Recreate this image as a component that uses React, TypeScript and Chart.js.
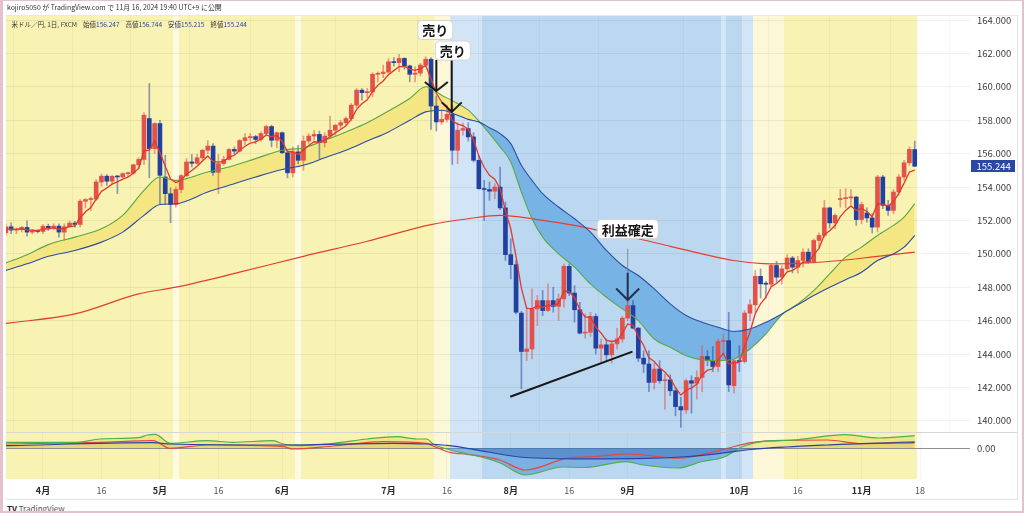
import React, { useEffect, useRef } from 'react';
import { Chart, registerables } from 'chart.js';

Chart.register(...registerables);

const FONT = "'Noto Sans CJK JP', 'Noto Sans', sans-serif";

// ---------------- DATA ----------------
// bar index 0 = 2024-04-01 (trading days), first bar = 2024-03-21
const firstBarIndex = -7;

const opens = [
  151.26, 151.62, 151.42, 151.45, 151.58, 151.30, 151.36,
  151.34, 151.65, 151.55, 151.66, 151.30, 151.62, 151.84, 151.76, 153.15, 153.25,
  153.28, 154.30, 154.65, 154.35, 154.64, 154.60, 154.80, 154.83, 155.33, 155.65,
  158.10, 156.30, 157.80, 154.60, 153.60, 152.95, 153.85, 154.68, 155.50, 155.42,
  155.75, 156.20, 156.45, 154.88, 155.40, 155.65, 156.25, 156.15, 156.78, 156.95,
  157.02, 156.85, 157.20, 157.62, 156.80, 157.25, 156.05, 154.85, 156.10, 155.60,
  156.75, 157.05, 157.15, 156.65, 157.05, 157.40, 157.70, 157.85, 158.10, 158.90,
  159.80, 159.65, 159.70, 160.75, 160.80, 160.88, 161.50, 161.45, 161.70, 161.25,
  160.75, 160.82, 161.30, 161.65, 158.85, 157.90, 158.05, 158.35, 156.20, 157.40,
  157.50, 157.00, 155.60, 153.90, 153.85, 153.75, 154.00, 152.75, 149.95, 149.35,
  146.45, 144.15, 144.30, 146.70, 147.20, 146.60, 147.20, 146.85, 147.30, 149.25,
  147.65, 146.65, 145.25, 145.30, 146.25, 144.35, 144.55, 143.95, 144.60, 144.90,
  146.15, 146.90, 145.55, 143.75, 143.40, 142.30, 143.10, 142.40, 142.45, 141.80,
  140.85, 140.65, 142.40, 142.25, 142.60, 143.85, 143.60, 143.25, 144.75, 144.80,
  142.10, 143.60, 143.55, 146.45, 146.95, 148.65, 148.20, 148.18, 149.30, 148.60,
  149.10, 149.75, 149.20, 149.60, 150.10, 149.50, 150.80, 151.10, 152.75, 151.85,
  153.25, 153.30, 153.35, 153.40, 152.05, 152.45, 152.15, 151.60, 154.60, 152.90,
  152.60, 153.70, 154.60, 155.45, 156.247,
];
const highs = [
  151.80, 151.85, 151.55, 151.65, 151.97, 151.45, 151.45,
  151.75, 151.78, 151.80, 151.80, 151.80, 151.95, 151.95, 153.25, 153.30, 153.40,
  154.45, 154.78, 154.75, 154.70, 154.70, 154.85, 154.90, 155.37, 155.75, 158.45,
  160.20, 157.85, 158.00, 155.90, 153.95, 154.00, 154.75, 155.70, 155.95, 155.95,
  156.25, 156.78, 156.60, 155.95, 155.85, 156.30, 156.40, 156.85, 157.20, 157.20,
  157.10, 157.30, 157.70, 157.70, 157.30, 157.30, 156.25, 156.40, 156.50, 157.05,
  157.20, 157.40, 157.35, 157.25, 158.25, 157.75, 158.00, 158.20, 159.00, 159.90,
  159.90, 159.90, 160.85, 160.90, 161.30, 161.70, 161.75, 161.95, 161.75, 161.30,
  161.20, 161.40, 161.80, 161.75, 159.45, 158.60, 158.85, 158.85, 157.85, 157.85,
  157.85, 157.25, 155.90, 154.40, 154.30, 154.20, 155.20, 153.10, 150.90, 149.60,
  146.55, 146.80, 147.90, 147.50, 147.80, 148.20, 148.00, 147.60, 149.40, 149.40,
  148.10, 147.10, 146.40, 146.50, 146.40, 144.90, 144.90, 144.80, 145.55, 146.25,
  147.20, 147.20, 145.60, 144.20, 144.20, 143.45, 143.60, 142.80, 142.75, 141.95,
  141.40, 142.50, 142.70, 143.00, 144.50, 144.20, 144.45, 144.90, 145.20, 146.50,
  143.70, 144.50, 146.60, 147.25, 149.00, 149.10, 148.35, 149.35, 149.55, 149.30,
  149.95, 149.85, 149.85, 150.30, 150.30, 150.90, 151.25, 153.20, 152.80, 152.40,
  153.85, 153.90, 153.85, 153.45, 153.10, 152.75, 152.40, 154.70, 154.70, 153.20,
  153.85, 154.75, 155.60, 156.40, 156.744,
];
const lows = [
  151.10, 151.20, 151.20, 151.30, 151.05, 151.20, 151.25,
  151.20, 151.40, 151.45, 151.00, 150.80, 151.60, 151.60, 151.60, 152.75, 152.60,
  153.20, 154.05, 154.10, 154.20, 153.60, 154.55, 154.60, 154.75, 155.10, 155.35,
  154.55, 156.00, 153.00, 152.95, 151.86, 152.80, 153.65, 154.60, 155.20, 155.35,
  155.60, 156.00, 154.70, 153.60, 155.30, 155.60, 155.95, 156.10, 156.55, 156.75,
  156.60, 156.75, 157.10, 156.40, 156.35, 156.00, 154.55, 154.60, 155.40, 155.00,
  156.60, 156.80, 155.70, 156.40, 156.90, 157.10, 157.50, 157.70, 157.95, 158.75,
  159.20, 159.35, 159.40, 160.30, 160.55, 160.80, 161.25, 160.90, 161.05, 160.30,
  160.30, 160.65, 161.20, 157.45, 157.35, 157.75, 157.90, 155.35, 155.40, 157.10,
  156.75, 155.50, 153.85, 152.00, 153.20, 153.30, 152.65, 149.60, 148.50, 146.40,
  141.90, 143.60, 143.70, 145.70, 146.30, 146.55, 146.50, 146.00, 146.80, 147.50,
  145.90, 145.20, 144.95, 145.05, 144.00, 143.50, 143.60, 143.45, 144.30, 144.70,
  146.00, 145.50, 143.55, 142.90, 141.75, 141.90, 142.25, 140.70, 141.50, 140.30,
  139.60, 140.45, 140.45, 141.30, 141.75, 143.30, 142.95, 142.95, 143.95, 141.75,
  141.65, 142.95, 143.45, 146.00, 146.50, 147.35, 147.35, 148.05, 148.30, 148.20,
  149.00, 148.85, 148.85, 149.20, 149.45, 149.45, 150.35, 151.00, 151.55, 151.50,
  152.80, 152.75, 152.95, 151.70, 151.80, 151.90, 151.25, 151.30, 152.70, 152.30,
  152.40, 153.50, 154.40, 155.30, 155.215,
];
const closes = [
  151.62, 151.42, 151.45, 151.58, 151.30, 151.36, 151.34,
  151.65, 151.55, 151.66, 151.30, 151.62, 151.84, 151.76, 153.15, 153.25, 153.28,
  154.30, 154.65, 154.35, 154.64, 154.60, 154.80, 154.83, 155.33, 155.65, 158.30,
  156.30, 157.80, 154.70, 153.60, 152.95, 153.85, 154.68, 155.50, 155.42, 155.75,
  156.20, 156.45, 154.88, 155.40, 155.65, 156.25, 156.15, 156.78, 156.95, 157.02,
  156.85, 157.20, 157.62, 156.80, 157.25, 156.05, 154.85, 156.10, 155.60, 156.75,
  157.05, 157.15, 156.65, 157.05, 157.40, 157.70, 157.85, 158.10, 158.90, 159.80,
  159.65, 159.70, 160.75, 160.80, 160.88, 161.50, 161.45, 161.70, 161.25, 160.75,
  160.82, 161.30, 161.65, 158.85, 157.90, 158.05, 158.35, 156.20, 157.40, 157.50,
  157.00, 155.60, 153.90, 153.85, 153.75, 154.00, 152.75, 149.95, 149.35, 146.50,
  144.15, 144.30, 146.70, 147.20, 146.60, 147.20, 146.85, 147.30, 149.25, 147.65,
  146.65, 145.25, 145.30, 146.25, 144.35, 144.55, 143.95, 144.60, 144.90, 146.15,
  146.90, 145.55, 143.75, 143.40, 142.30, 143.10, 142.40, 142.45, 141.80, 140.85,
  140.65, 142.40, 142.25, 142.60, 143.85, 143.60, 143.25, 144.75, 144.80, 142.15,
  143.60, 143.55, 146.45, 146.95, 148.65, 148.20, 148.18, 149.30, 148.60, 149.10,
  149.75, 149.20, 149.60, 150.10, 149.50, 150.80, 151.10, 152.75, 151.85, 152.30,
  153.30, 153.35, 153.40, 152.05, 152.95, 152.15, 151.60, 154.60, 152.90, 152.60,
  153.70, 154.60, 155.45, 156.25, 155.244,
];
// short moving average (red thin line), one value per bar
const fastMA = [
  151.50, 151.47, 151.46, 151.50, 151.43, 151.41, 151.39,
  151.48, 151.50, 151.55, 151.47, 151.52, 151.63, 151.67, 152.16, 152.52, 152.77,
  153.28, 153.74, 153.94, 154.17, 154.31, 154.47, 154.59, 154.84, 155.11, 156.17,
  156.21, 156.74, 156.06, 155.24, 154.48, 154.27, 154.41, 154.77, 154.99, 155.24,
  155.56, 155.86, 155.53, 155.49, 155.54, 155.78, 155.90, 156.19, 156.44, 156.63,
  156.70, 156.87, 157.12, 157.01, 157.09, 156.74, 156.11, 156.11, 155.94, 156.21,
  156.49, 156.71, 156.69, 156.81, 157.01, 157.24, 157.44, 157.66, 158.07, 158.65,
  158.98, 159.22, 159.73, 160.09, 160.35, 160.73, 160.97, 161.21, 161.22, 161.06,
  160.98, 161.09, 161.28, 160.47, 159.61, 159.09, 158.84, 157.96, 157.77, 157.68,
  157.45, 156.83, 155.85, 155.18, 154.70, 154.47, 153.90, 152.58, 151.50, 149.83,
  147.94, 146.73, 146.72, 146.88, 146.79, 146.93, 146.90, 147.03, 147.77, 147.73,
  147.37, 146.66, 146.21, 146.22, 145.60, 145.25, 144.82, 144.75, 144.80, 145.25,
  145.80, 145.72, 145.06, 144.51, 143.77, 143.55, 143.17, 142.93, 142.55, 141.98,
  141.54, 141.83, 141.97, 142.18, 142.74, 143.03, 143.10, 143.65, 144.03, 143.40,
  143.47, 143.50, 144.48, 145.30, 146.42, 147.01, 147.40, 148.03, 148.22, 148.51,
  148.92, 149.01, 149.21, 149.51, 149.51, 149.94, 150.33, 151.14, 151.38, 151.69,
  152.23, 152.60, 152.87, 152.60, 152.72, 152.53, 152.22, 153.01, 152.97, 152.85,
  153.13, 153.62, 154.23, 154.90, 155.01,
];

// middle (green) and slow (blue) moving averages, read at these bar indices
const bandIdx = [
  -7, -3, 1, 6, 11, 15, 19, 22, 25, 31, 35, 40, 45, 49, 53, 57, 61, 65, 69, 72,
  75, 78, 80, 82, 84, 86, 88, 90, 92, 94, 97, 100, 103, 106, 109, 112, 115, 118,
  121, 124, 127, 130, 133, 136, 139, 142, 145, 148, 151, 154, 157, 160, 162, 164,
];
const greenMA = [
  149.45, 149.95, 150.55, 151.0, 151.5, 152.3, 153.8, 154.6, 154.4, 154.9, 155.2, 155.7,
  156.2, 156.35, 156.8, 157.3, 157.85, 158.55, 159.3, 160.0, 159.5, 159.0, 158.6, 157.95,
  157.2, 156.4, 155.5, 153.7, 152.1, 151.0, 150.0, 149.2, 148.2, 147.4, 146.7, 146.0,
  144.9, 144.4, 143.9, 143.65, 143.6, 143.7, 144.3, 145.2, 146.35, 147.0, 147.8, 148.8,
  149.8, 150.4, 151.1, 151.7, 152.2, 153.0,
];
const blueMA = [
  149.0, 149.4, 149.85, 150.2, 150.7, 151.3, 152.3, 152.95, 153.0, 153.7, 154.1, 154.6,
  155.05, 155.3, 155.75, 156.2, 156.75, 157.3, 158.0, 158.5, 158.6, 158.3, 158.05, 157.9,
  157.55, 157.2, 156.6, 155.3, 154.4, 153.6, 152.8, 152.1, 151.3, 150.2, 149.3, 148.7,
  147.9, 147.0, 146.3, 145.9, 145.6, 145.35, 145.5, 145.9, 146.4, 146.95, 147.5, 148.0,
  148.45, 148.9, 149.6, 150.0, 150.4, 151.1,
];
// long moving average (red)
const longIdx = [-7, 6, 18, 25, 37, 49, 61, 73, 80, 86, 93, 100, 106, 112, 118, 124, 130, 137, 144, 150, 157, 164];
const longMA = [
  145.83, 146.4, 147.6, 148.0, 148.9, 149.85, 150.75, 151.75, 152.1, 152.3, 152.05,
  151.7, 151.3, 150.9, 150.45, 150.0, 149.6, 149.4, 149.45, 149.6, 149.85, 150.1,
];

// lower oscillator pane (three lines)
const oscGreenIdx = [-7, 6.4, 10.7, 18.3, 19.6, 21.1, 23.9, 30.9, 35.7, 43.3, 45.2, 48.4, 54.6, 61, 66.6, 70.4, 72.2, 73.4, 76.6, 79.8, 82.8, 86, 90.7, 97.8, 101.8, 109.7, 112.9, 119.5, 124, 127.9, 131.9, 136.4, 140.9, 150.9, 157.3, 164];
const oscGreen = [0.57, 0.57, 0.9, 1.07, 1.3, 1.37, 0.47, 0.73, 0.57, 0.73, 0.4, 0.23, 0.47, 0.9, 1.13, 0.9, 0.9, 0.4, -0.2, -0.6, -0.95, -1.5, -2.7, -1.9, -1.95, -1.37, -1.7, -2.0, -1.35, -0.95, 0.2, 0.72, 0.79, 1.34, 1.0, 1.24];
const oscRedIdx = [-7, 10.7, 20.7, 23.9, 30.9, 45.2, 47, 54.6, 64, 72.2, 73.4, 76.6, 79.8, 82.2, 86, 90.7, 98.6, 103.8, 110.3, 119.5, 127.9, 133.2, 137.7, 147.5, 154.1, 164];
const oscRed = [0.4, 0.57, 0.73, -0.03, 0.3, 0.13, -0.1, 0.2, 0.63, 0.47, 0.2, -0.43, -0.63, -0.8, -1.2, -2.2, -1.02, -0.85, -0.6, -1.02, -0.15, 0.54, 0.72, 0.8, 0.44, 0.65];
const oscBlueIdx = [-7, 20.7, 23.9, 45.2, 65.9, 72.2, 76.6, 82.2, 90.7, 101.8, 114.9, 121.3, 127.9, 133.2, 139.8, 147.5, 154.1, 164];
const oscBlue = [0.23, 0.53, 0.4, 0.3, 0.47, 0.4, 0.23, -0.26, -0.95, -1.09, -1.02, -0.85, -0.5, -0.15, 0.1, 0.3, 0.44, 0.54];

// background regime shading (bar index ranges)
const bgStart = [-7, 25, 26, 48, 49, 74, 77, 83, 128, 129, 132, 134, 140];
const bgEnd = [24, 25, 47, 48, 73, 76, 82, 127, 128, 131, 133, 139, 164];
const bgTone = ['Y', 'S', 'Y', 'S', 'Y', 'LY', 'LB', 'B', 'SB', 'B', 'LB', 'LY', 'Y'];

// axis ticks
const priceTicks = [140, 142, 144, 146, 148, 150, 152, 154, 156, 158, 160, 162, 164];
const timeTickIdx = [0, 11, 22, 33, 45, 65, 76, 88, 99, 110, 131, 142, 154, 165];
const timeTickText = ['4月', '16', '5月', '16', '6月', '7月', '16', '8月', '16', '9月', '10月', '16', '11月', '18'];

const lastPrice = 155.244;

// ---------------- STYLE ----------------
const BG_COLORS: Record<string, string> = {
  Y: '#f8f2b3', S: '#fcfae4', LY: '#fbf7d7', LB: '#d2e5f6', B: '#bcd8f0', SB: '#d5e7f7',
};
const UP = '#e2514a';
const DOWN = '#22409f';
const X_MIN = -6.96;
const X_MAX = 174.4;
const Y_MIN = 139.33;
const Y_MAX = 164.24;

const pts = (xs: number[], ys: number[]) => xs.map((x, k) => ({ x, y: ys[k] }));

function makeBgPlugin(id: string) {
  return {
    id,
    beforeDraw(chart: any) {
      const { ctx, chartArea: a, scales } = chart;
      const xs = scales.x;
      ctx.save();
      ctx.beginPath();
      ctx.rect(a.left, a.top, a.right - a.left, a.bottom - a.top);
      ctx.clip();
      for (let k = 0; k < bgStart.length; k++) {
        const x1 = Math.round(xs.getPixelForValue(bgStart[k] - 0.5));
        const x2 = Math.round(xs.getPixelForValue(bgEnd[k] + 0.5));
        ctx.fillStyle = BG_COLORS[bgTone[k]];
        ctx.fillRect(x1, a.top, x2 - x1, a.bottom - a.top);
      }
      ctx.restore();
    },
  };
}

function drawBox(ctx: CanvasRenderingContext2D, cx: number, cy: number, text: string) {
  ctx.font = `bold 13px ${FONT}`;
  const w = ctx.measureText(text).width + 9;
  const h = 19;
  ctx.beginPath();
  if ((ctx as any).roundRect) (ctx as any).roundRect(cx - w / 2, cy - h / 2, w, h, 4);
  else ctx.rect(cx - w / 2, cy - h / 2, w, h);
  ctx.fillStyle = '#ffffff';
  ctx.fill();
  ctx.strokeStyle = '#d4d4d4';
  ctx.lineWidth = 1;
  ctx.stroke();
  ctx.fillStyle = '#151515';
  ctx.textAlign = 'center';
  ctx.textBaseline = 'middle';
  ctx.fillText(text, cx, cy + 0.5);
}

const annotationPlugin = {
  id: 'notes',
  afterDatasetsDraw(chart: any) {
    const { ctx } = chart;
    const X = (v: number) => chart.scales.x.getPixelForValue(v);
    const Y = (v: number) => chart.scales.y.getPixelForValue(v);
    ctx.save();
    // support trend line
    ctx.strokeStyle = '#161616';
    ctx.lineWidth = 2;
    ctx.beginPath();
    ctx.moveTo(X(87.9), Y(141.44));
    ctx.lineTo(X(110.9), Y(144.14));
    ctx.stroke();
    // connector under the profit label
    ctx.strokeStyle = 'rgba(120,120,130,0.8)';
    ctx.lineWidth = 1;
    ctx.beginPath();
    ctx.moveTo(X(110.0), Y(150.3));
    ctx.lineTo(X(110.0), Y(146.8));
    ctx.stroke();
    // down arrows
    const arrows = [
      { i: 74.0, top: 161.6, tip: 159.75, aw: 11.5, ah: 9, c: '#1a1a1a' },
      { i: 76.9, top: 161.6, tip: 158.5, aw: 10, ah: 9.5, c: '#1a1a1a' },
      { i: 110.0, top: 148.87, tip: 147.23, aw: 11.5, ah: 11.5, c: '#243050' },
    ];
    for (const a of arrows) {
      const x = X(a.i);
      const yt = Y(a.top);
      const yb = Y(a.tip);
      ctx.strokeStyle = a.c;
      ctx.lineWidth = 2;
      ctx.beginPath();
      ctx.moveTo(x, yt);
      ctx.lineTo(x, yb);
      ctx.moveTo(x - a.aw, yb - a.ah);
      ctx.lineTo(x, yb);
      ctx.lineTo(x + a.aw, yb - a.ah);
      ctx.stroke();
    }
    drawBox(ctx, X(73.8), Y(163.4), '売り');
    drawBox(ctx, X(77.1), Y(162.17), '売り');
    drawBox(ctx, X(110.0), Y(151.48), '利益確定');
    ctx.restore();
  },
  afterDraw(chart: any) {
    const { ctx } = chart;
    const y = chart.scales.y.getPixelForValue(lastPrice);
    ctx.save();
    ctx.fillStyle = '#2a47a3';
    ctx.fillRect(971, Math.round(y) - 6, 44, 12);
    ctx.fillStyle = '#ffffff';
    ctx.font = `9.5px ${FONT}`;
    ctx.textAlign = 'left';
    ctx.textBaseline = 'middle';
    ctx.fillText(lastPrice.toFixed(3), 976.5, Math.round(y) + 0.5);
    ctx.restore();
  },
};

const lineDs = (data: any[], color: string, width: number, extra: any = {}) => ({
  type: 'line',
  data,
  borderColor: color,
  borderWidth: width,
  pointRadius: 0,
  fill: false,
  ...extra,
});

const noPad = (s: any) => {
  s.width = 54;
  s.paddingTop = 0;
  s.paddingBottom = 0;
};

export default function App() {
  const mainRef = useRef<HTMLCanvasElement | null>(null);
  const oscRef = useRef<HTMLCanvasElement | null>(null);

  useEffect(() => {
    document.body.style.margin = '0';
    const barX = (k: number) => firstBarIndex + k;
    const bodies = closes.map((c, k) => ({ x: barX(k), y: [Math.min(opens[k], c), Math.max(opens[k], c)] }));
    const wicks = closes.map((c, k) => ({ x: barX(k), y: [lows[k], highs[k]] }));
    const bodyColors = closes.map((c, k) => (c >= opens[k] ? UP : DOWN));
    const wickColors = closes.map((c, k) => (c >= opens[k] ? 'rgba(226,81,74,0.55)' : 'rgba(34,64,159,0.5)'));

    const xScaleBase = {
      type: 'linear',
      min: X_MIN,
      max: X_MAX,
      offset: false,
      afterBuildTicks: (s: any) => {
        s.ticks = timeTickIdx.map((v) => ({ value: v }));
      },
      border: { display: false },
    };

    const main = new Chart(mainRef.current as HTMLCanvasElement, {
      type: 'line',
      data: {
        datasets: [
          lineDs(pts(bandIdx, blueMA), '#2c4ea6', 1.1, { cubicInterpolationMode: 'monotone', order: 1 }),
          lineDs(pts(bandIdx, greenMA), '#5aa749', 1.1, {
            cubicInterpolationMode: 'monotone',
            order: 1,
            fill: { target: 0, above: '#f4e683', below: '#78b3e6' },
          }),
          lineDs(pts(longIdx, longMA), '#e2402f', 1.2, { cubicInterpolationMode: 'monotone', order: 1 }),
          lineDs(fastMA.map((v, k) => ({ x: barX(k), y: v })), '#e5372f', 1.3, { order: 0 }),
          {
            type: 'bar',
            data: wicks,
            backgroundColor: wickColors,
            barThickness: 1,
            grouped: false,
            order: 3,
          },
          {
            type: 'bar',
            data: bodies,
            backgroundColor: bodyColors,
            barThickness: 4,
            minBarLength: 1,
            grouped: false,
            order: 2,
          },
        ] as any,
      },
      options: {
        responsive: false,
        animation: false,
        events: [],
        layout: { padding: { left: 6, top: 16, right: 0, bottom: 0 } },
        plugins: {
          legend: { display: false },
          tooltip: { enabled: false },
          filler: { drawTime: 'beforeDatasetsDraw' },
        } as any,
        scales: {
          x: {
            ...xScaleBase,
            display: true,
            afterFit: (s: any) => {
              s.height = 0;
              s.paddingLeft = 0;
              s.paddingRight = 0;
            },
            ticks: { display: false },
            grid: { drawTicks: false, color: 'rgba(0,0,0,0.035)' },
          } as any,
          y: {
            position: 'right',
            min: Y_MIN,
            max: Y_MAX,
            afterBuildTicks: (s: any) => {
              s.ticks = priceTicks.map((v) => ({ value: v }));
            },
            afterFit: noPad,
            ticks: {
              padding: 7,
              color: '#3d3d3d',
              font: { size: 9.5, family: FONT },
              callback: (v: any) => Number(v).toFixed(3),
            },
            grid: { drawTicks: false, color: 'rgba(0,0,0,0.06)' },
            border: { display: false },
          } as any,
        },
      },
      plugins: [makeBgPlugin('bgMain'), annotationPlugin],
    });

    const osc = new Chart(oscRef.current as HTMLCanvasElement, {
      type: 'line',
      data: {
        datasets: [
          lineDs(pts(oscBlueIdx, oscBlue), '#2c44a8', 1.2, {
            cubicInterpolationMode: 'monotone',
            fill: { target: 'origin', above: 'rgba(190,170,70,0.25)', below: 'rgba(35,85,170,0.35)' },
          }),
          lineDs(pts(oscGreenIdx, oscGreen), '#4caf50', 1.2, {
            cubicInterpolationMode: 'monotone',
            fill: { target: 'origin', above: 'rgba(232,214,80,0.45)', below: 'rgba(70,145,215,0.55)' },
          }),
          lineDs(pts(oscRedIdx, oscRed), '#e5483f', 1.2, { cubicInterpolationMode: 'monotone' }),
        ] as any,
      },
      options: {
        responsive: false,
        animation: false,
        events: [],
        layout: { padding: { left: 6, top: 0, right: 0, bottom: 0 } },
        plugins: {
          legend: { display: false },
          tooltip: { enabled: false },
          filler: { drawTime: 'beforeDatasetsDraw' },
        } as any,
        scales: {
          x: {
            ...xScaleBase,
            display: true,
            afterFit: (s: any) => {
              s.height = 23;
              s.paddingLeft = 0;
              s.paddingRight = 0;
            },
            ticks: {
              autoSkip: false,
              maxRotation: 0,
              padding: 6,
              callback: (_v: any, i: number) => timeTickText[i],
              color: (c: any) => (timeTickText[c.index] && timeTickText[c.index].endsWith('月') ? '#2a2a2a' : '#555555'),
              font: (c: any) => ({
                size: 9,
                family: FONT,
                weight: timeTickText[c.index] && timeTickText[c.index].endsWith('月') ? 'bold' : 'normal',
              }),
            },
            grid: { drawTicks: false, color: 'rgba(0,0,0,0.035)' },
          } as any,
          y: {
            position: 'right',
            min: -3.1,
            max: 1.6,
            afterBuildTicks: (s: any) => {
              s.ticks = [{ value: 0 }];
            },
            afterFit: noPad,
            ticks: {
              padding: 7,
              color: '#3d3d3d',
              font: { size: 9.5, family: FONT },
              callback: (v: any) => Number(v).toFixed(2),
            },
            grid: { drawTicks: false, color: '#8e8e8e' },
            border: { display: false },
          } as any,
        },
      },
      plugins: [makeBgPlugin('bgOsc')],
    });

    return () => {
      main.destroy();
      osc.destroy();
    };
  }, []);

  const line = (style: React.CSSProperties) => (
    <div style={{ position: 'absolute', background: '#dedede', ...style }} />
  );
  const val = { color: '#2a47a3' };
  const gap = { marginLeft: 6 };

  return (
    <div
      style={{
        position: 'fixed',
        left: 0,
        top: 0,
        width: 1024,
        height: 513,
        background: '#ffffff',
        overflow: 'hidden',
        fontFamily: FONT,
      }}
    >
      <canvas ref={mainRef} width={1024} height={432} style={{ position: 'absolute', left: 0, top: 0, width: 1024, height: 432 }} />
      <canvas ref={oscRef} width={1024} height={70} style={{ position: 'absolute', left: 0, top: 432, width: 1024, height: 70 }} />
      {line({ left: 6, top: 15, width: 1011, height: 1, background: '#e8e8e8' })}
      {line({ left: 6, top: 432, width: 1011, height: 1, background: '#d6d6d6' })}
      {line({ left: 6, top: 499, width: 1011, height: 1, background: '#e2e2e2' })}
      {line({ left: 1017, top: 15, width: 1, height: 485, background: '#e2e2e2' })}
      <div style={{ position: 'absolute', left: 7, top: 2, fontSize: 6.9, color: '#333', whiteSpace: 'nowrap', lineHeight: '10px' }}>
        kojiro5050 が TradingView.com で 11月 16, 2024 19:40 UTC+9 に公開
      </div>
      <div style={{ position: 'absolute', left: 11.5, top: 19, fontSize: 6.5, color: '#3a3a3a', whiteSpace: 'nowrap', lineHeight: '10px' }}>
        <span>米ドル／円, 1日, FXCM</span>
        <span style={gap}>始値</span>
        <span style={val}>156.247</span>
        <span style={gap}>高値</span>
        <span style={val}>156.744</span>
        <span style={gap}>安値</span>
        <span style={val}>155.215</span>
        <span style={gap}>終値</span>
        <span style={val}>155.244</span>
      </div>
      <div style={{ position: 'absolute', left: 7, top: 503, fontSize: 8, color: '#555', whiteSpace: 'nowrap', lineHeight: '11px' }}>
        <b style={{ color: '#222' }}>TV</b> TradingView
      </div>
      <div
        style={{
          position: 'absolute',
          left: 0,
          top: 0,
          width: 1024,
          height: 513,
          boxSizing: 'border-box',
          borderStyle: 'solid',
          borderColor: '#e3c1cd',
          borderWidth: '1px 2px 2px 3px',
          pointerEvents: 'none',
        }}
      />
    </div>
  );
}
